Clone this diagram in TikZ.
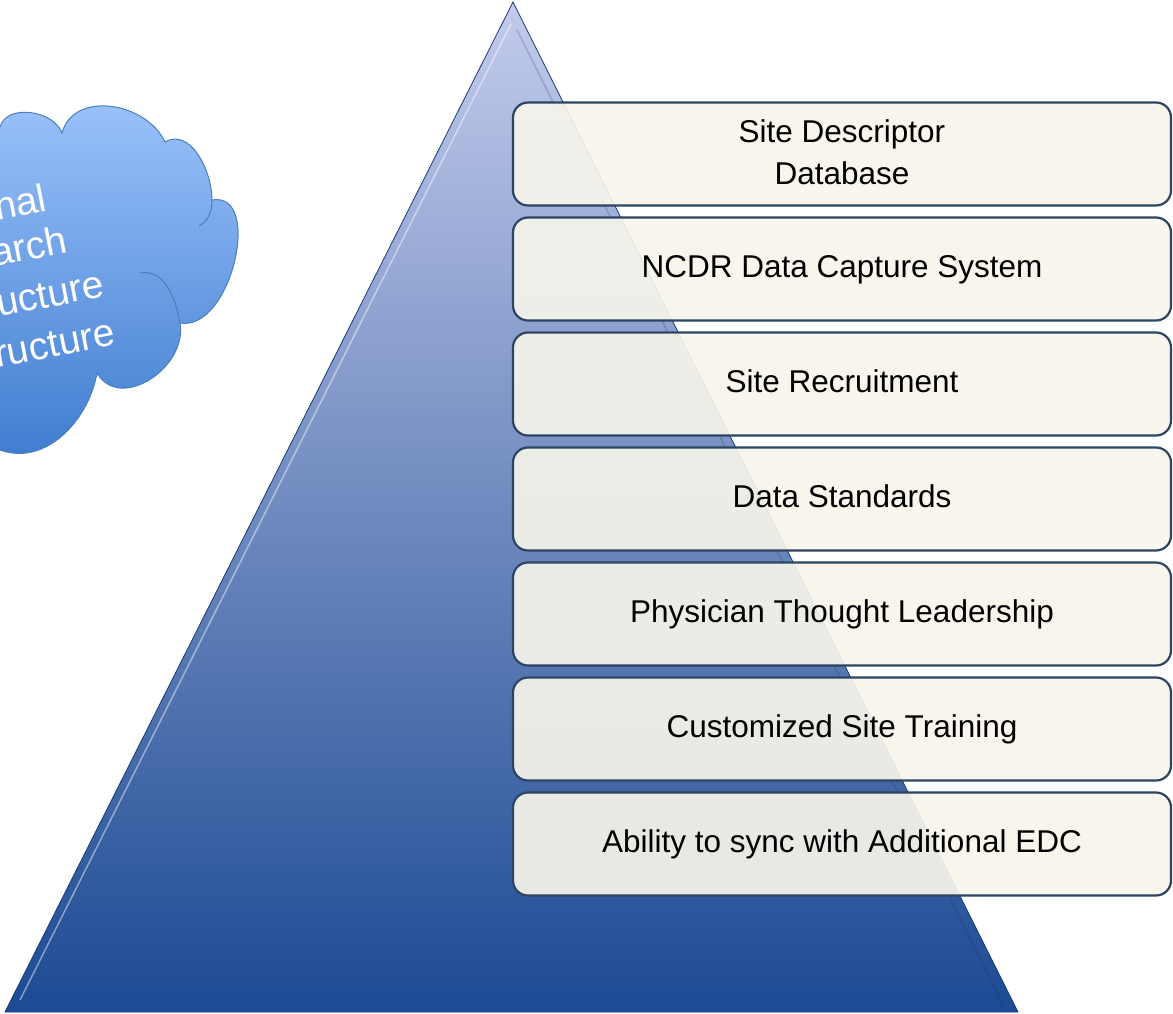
\documentclass[tikz,border=0pt]{standalone}
\usepackage{fontspec}
\setmainfont{Liberation Sans}
\usepackage{tikz}
\usetikzlibrary{positioning}

\definecolor{pyrtop}{HTML}{C3CBEC}
\definecolor{pyrmid}{HTML}{6E84BE}
\definecolor{pyrbot}{HTML}{1C4A93}
\definecolor{boxfill}{HTML}{F6F4EB}
\definecolor{boxedge}{HTML}{2D4563}
\definecolor{cloudtop}{HTML}{9DC4FC}
\definecolor{cloudbot}{HTML}{3D7BCE}
\definecolor{cloudedge}{HTML}{4A7EBC}

\tikzset{
  layer/.style={draw=boxedge, line width=2.2pt, rounded corners=15pt,
    fill=boxfill, fill opacity=0.93, text opacity=1, outer sep=0pt,
    minimum width=658pt, minimum height=103pt, inner sep=0pt,
    font=\fontsize{31.5}{43}\selectfont, text height=22pt, text depth=6pt},
  cloudtext/.style={text=white, rotate=11, inner sep=0pt,
    font=\fontsize{39}{47}\selectfont},
}

\begin{document}
\begin{tikzpicture}[x=1pt,y=-1pt]
\useasboundingbox (0,0) rectangle (1173,1014);
\clip (0,0) rectangle (1173,1014);

% pyramid
\coordinate (apex) at (513,2);
\coordinate (bl) at (5,1012);
\coordinate (br) at (1018,1012);
\shade[top color=pyrtop, middle color=pyrmid, bottom color=pyrbot, draw=pyrbot!80!black, line width=0.8pt]
  (apex) -- (br) -- (bl) -- cycle;
\draw[white, opacity=0.45, line width=1.5pt] (20,1000) -- (511,24);
\draw[pyrbot!60!black, opacity=0.2, line width=1.5pt] (1003,1004) -- (517,30);

% cloud
\shade[top color=cloudtop, bottom color=cloudbot, draw=cloudedge, line width=1pt]
  (-60,127) -- (0,127)
  to[out=75,in=110] (62,133)
  to[out=75,in=115,looseness=1.1] (165,142)
  to[out=30,in=90] (212,200)
  to[out=10,in=-10,looseness=1.05] (180,323)
  to[out=-80,in=-60,looseness=1.2] (97,373)
  to[out=-100,in=-20] (0,450)
  -- (-60,450) -- cycle;
\draw[cloudedge, line width=1pt] (212,200) to[out=-90,in=30] (199,226);
\draw[cloudedge, line width=1pt] (140,273) to[out=10,in=100] (180,323);
\node[cloudtext, anchor=base west] (cl1) at (-3,221) {nal};
\node[cloudtext, anchor=base west] (cl2) at (-6,267) {arch};
\node[cloudtext, anchor=base west] (cl3) at (-1,317) {ucture};
\node[cloudtext, anchor=base west] (cl4) at (-3,368) {ructure};

% layers
\node[layer, align=center, text height=65pt, text depth=3pt] (b1) at (842,154) {Site Descriptor\\Database};
\node[layer, below=12pt of b1] (b2) {NCDR Data Capture System};
\node[layer, below=12pt of b2] (b3) {Site Recruitment};
\node[layer, below=12pt of b3] (b4) {Data Standards};
\node[layer, below=12pt of b4] (b5) {Physician Thought Leadership};
\node[layer, below=12pt of b5] (b6) {Customized Site Training};
\node[layer, below=12pt of b6] (b7) {Ability to sync with Additional EDC};
\end{tikzpicture}
\end{document}
